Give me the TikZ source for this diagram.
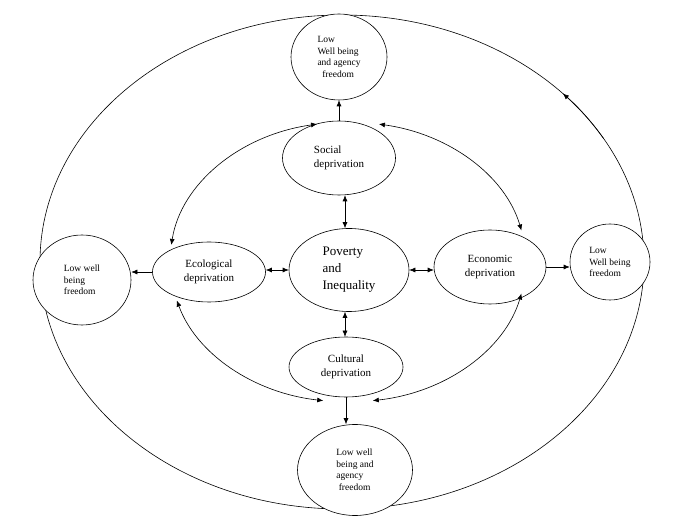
\documentclass[tikz,border=0pt]{standalone}
\usepackage{fontspec}
\setmainfont{Liberation Serif}
\usetikzlibrary{shapes.geometric,arrows.meta}
\begin{document}
\begin{tikzpicture}[x=1pt,y=1pt,
  el/.style={ellipse,draw,fill=white,inner sep=0pt,line width=0.6pt},
  ar/.style={-{Latex[length=6pt,width=5pt]},line width=0.6pt},
  dar/.style={{Latex[length=6pt,width=5pt]}-{Latex[length=6pt,width=5pt]},line width=0.6pt},
  t/.style={font=\fontsize{11}{14}\selectfont,align=left},
  s/.style={font=\fontsize{9.5}{11.5}\selectfont,align=left}]
\useasboundingbox (0,0) rectangle (676,524);
\draw[line width=0.6pt] (342,262) ellipse [x radius=302, y radius=247];
\draw[ar] (342,262) ++(30:302 and 247) arc[start angle=30,end angle=43,x radius=302,y radius=247];
% nodes
\node[el,minimum width=96,minimum height=86,s] (tl) at (339,467) {Low\\Well being\\and agency\\\ \ freedom};
\node[el,minimum width=113,minimum height=74,t] (soc) at (339,366) {Social\\deprivation};
\node[el,minimum width=120,minimum height=83,font=\fontsize{13}{17}\selectfont,align=left] (pov) at (349,254) {Poverty\\and\\Inequality};
\node[el,minimum width=113,minimum height=60,t,align=center] (eco) at (209,252) {Ecological\\deprivation};
\node[el,minimum width=112,minimum height=74,t,align=center] (econ) at (490,257) {Economic\\deprivation};
\node[el,minimum width=114,minimum height=60,t,align=center] (cul) at (346,157) {Cultural\\deprivation};
\node[el,minimum width=115,minimum height=91,s] (bl) at (355,54) {Low well\\being and\\agency\\\ freedom};
\node[el,minimum width=98,minimum height=90,s] (ll) at (82,244) {Low well\\being\\freedom};
\node[el,minimum width=80,minimum height=76,s] (rl) at (610,262) {Low\\Well being\\freedom};
% arcs
\draw[dar] (348,262) ++(173:178 and 140) arc[start angle=173,end angle=100,x radius=178,y radius=140];
\draw[dar] (348,262) ++(80:178 and 140) arc[start angle=80,end angle=13,x radius=178,y radius=140];
\draw[dar] (348,262) ++(-13:178 and 140) arc[start angle=-13,end angle=-82,x radius=178,y radius=140];
\draw[dar] (348,262) ++(196:178 and 140) arc[start angle=196,end angle=262,x radius=178,y radius=140];
% connectors
\draw[ar] (soc.north) -- (soc.north |- tl.south);
\draw[ar] (eco.west) -- (eco.west -| ll.east);
\draw[ar] (econ.east) -- (econ.east -| rl.west);
\draw[ar] (cul.south) -- (cul.south |- bl.north);
\draw[dar] ([xshift=-4pt]pov.north) -- ([xshift=-4pt]pov.north |- soc.south);
\draw[dar] (pov.west) -- (pov.west -| eco.east);
\draw[dar] (pov.east) -- (pov.east -| econ.west);
\draw[dar] ([xshift=-4pt]pov.south) -- ([xshift=-4pt]pov.south |- cul.north);
\end{tikzpicture}
\end{document}
